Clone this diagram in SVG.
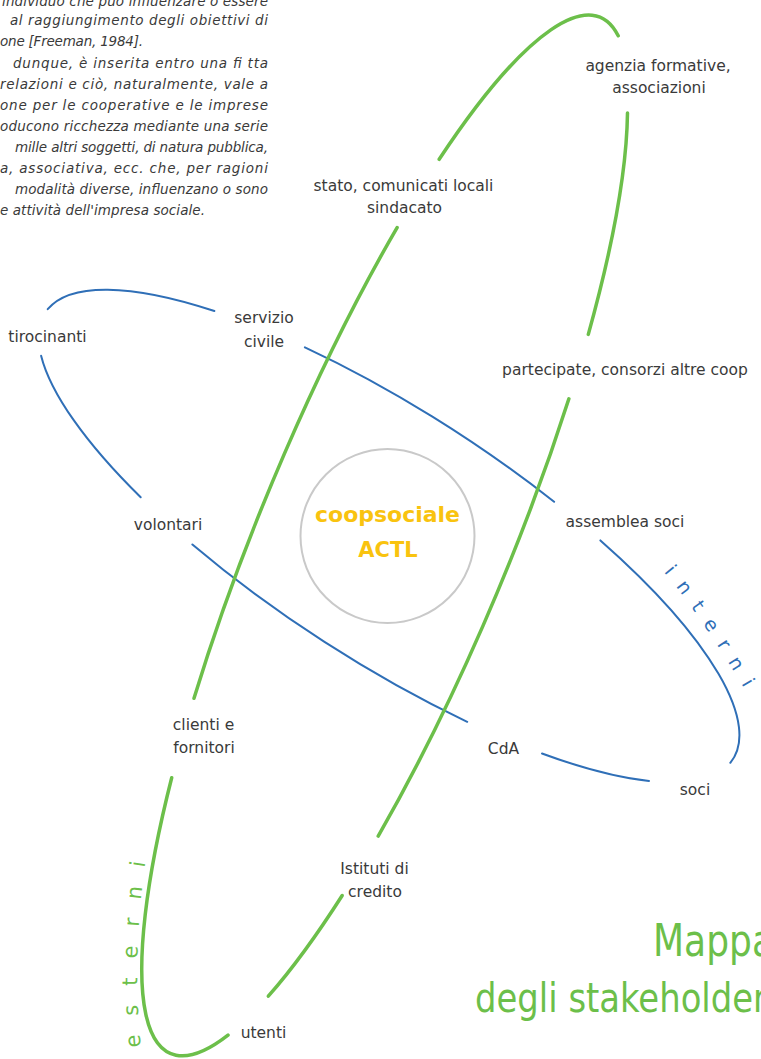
<svg xmlns="http://www.w3.org/2000/svg" width="761" height="1059" viewBox="0 0 761 1059">
<style>
.bg{fill:#ffffff}
.para{font-family:"DejaVu Sans","Liberation Sans",sans-serif;font-style:italic;font-size:13.5px;fill:#3a3a3a}
.lbl{font-family:"DejaVu Sans","Liberation Sans",sans-serif;font-size:15.5px;fill:#3a3a3a;text-anchor:middle}
.core{font-family:"DejaVu Sans","Liberation Sans",sans-serif;font-weight:bold;font-size:21px;fill:#f9c30f;text-anchor:middle}
.blue{fill:none;stroke:#2f6fb7;stroke-width:2;stroke-linecap:round}
.green{fill:none;stroke:#6cbf4a;stroke-width:3.5;stroke-linecap:round}
.ring{fill:none;stroke:#c9c9c9;stroke-width:2}
.arcB{font-family:"DejaVu Sans",sans-serif;font-size:19px;fill:#2f6fb7}
.arcG{font-family:"DejaVu Sans",sans-serif;font-size:21px;fill:#6cbf4a}
.title{font-family:"DejaVu Sans Condensed","DejaVu Sans",sans-serif;fill:#6cbf4a}
</style>
<defs>
<path id="pInt" d="M664,572 Q704,620 748,695"/>
<path id="pEst" d="M141,1047 Q131,950 148,845"/>
</defs>
<rect class="bg" x="0" y="0" width="761" height="1059"/>

<g id="paragraph">
<text class="para" x="2" y="5.5" textLength="266">individuo che può influenzare o essere</text>
<text class="para" x="10" y="24.5" textLength="258">al raggiungimento degli obiettivi di</text>
<text class="para" x="0" y="45.7" textLength="143">one [Freeman, 1984].</text>
<text class="para" x="13" y="68.3" textLength="255">dunque, è inserita entro una fi tta</text>
<text class="para" x="0" y="89.3" textLength="268">relazioni e ciò, naturalmente, vale a</text>
<text class="para" x="0" y="110.2" textLength="268">one per le cooperative e le imprese</text>
<text class="para" x="0" y="131.2" textLength="268">oducono ricchezza mediante una serie</text>
<text class="para" x="15" y="152.1" textLength="253">mille altri soggetti, di natura pubblica,</text>
<text class="para" x="0" y="173.1" textLength="268">a, associativa, ecc. che, per ragioni</text>
<text class="para" x="15" y="194.1" textLength="253">modalità diverse, influenzano o sono</text>
<text class="para" x="0" y="215" textLength="205">e attività dell'impresa sociale.</text>
</g>

<g id="connectors">
<g id="interni-ring">
<path class="blue" d="M47.7,309.2 A410,124 33 0 1 214.4,311.0"/>
<path class="blue" d="M304.9,347.3 A410,124 33 0 1 554.1,501.8"/>
<path class="blue" d="M600.4,540.4 A410,124 33 0 1 730.3,762.8"/>
<path class="blue" d="M649.0,781.0 A410,124 33 0 1 542.0,753.5"/>
<path class="blue" d="M467.2,721.8 A410,124 33 0 1 192.4,544.5"/>
<path class="blue" d="M140.7,497.3 A410,124 33 0 1 41.1,355.7"/>
</g>
<g id="esterni-ring">
<path class="green" d="M439.2,159.3 A561,125 112.5 0 1 618.2,35.8"/>
<path class="green" d="M627.5,113 A561,125 112.5 0 1 588.3,334.4"/>
<path class="green" d="M568.9,398.8 A561,125 112.5 0 1 378.2,836.1"/>
<path class="green" d="M342.2,895.5 A561,125 112.5 0 1 268.3,996.2"/>
<path class="green" d="M228,1035.2 A561,125 112.5 0 1 171.7,777.7"/>
<path class="green" d="M194,698.3 A561,125 112.5 0 1 397.1,227.6"/>
</g>
</g>

<g id="center">
<circle class="ring" cx="387.5" cy="536" r="87"/>
<text class="core" x="387.5" y="521.5" textLength="145" lengthAdjust="spacingAndGlyphs">coopsociale</text>
<text class="core" x="388" y="556.5">ACTL</text>
</g>

<g id="agenzia"><text class="lbl" x="658" y="71">agenzia formative,</text><text class="lbl" x="659" y="93">associazioni</text></g>
<g id="stato"><text class="lbl" x="403.5" y="190.5">stato, comunicati locali</text><text class="lbl" x="404.5" y="213">sindacato</text></g>
<g id="servizio"><text class="lbl" x="264" y="323">servizio</text><text class="lbl" x="264" y="346.5">civile</text></g>
<g id="tirocinanti"><text class="lbl" x="47.5" y="341.5">tirocinanti</text></g>
<g id="partecipate"><text class="lbl" x="625" y="375">partecipate, consorzi altre coop</text></g>
<g id="volontari"><text class="lbl" x="168" y="530">volontari</text></g>
<g id="assemblea"><text class="lbl" x="625" y="526.5">assemblea soci</text></g>
<g id="clienti"><text class="lbl" x="203.5" y="730">clienti e</text><text class="lbl" x="204" y="753">fornitori</text></g>
<g id="cda"><text class="lbl" x="503.5" y="754">CdA</text></g>
<g id="soci"><text class="lbl" x="695" y="795">soci</text></g>
<g id="istituti"><text class="lbl" x="374.5" y="874">Istituti di</text><text class="lbl" x="375" y="897">credito</text></g>
<g id="utenti"><text class="lbl" x="263.5" y="1038">utenti</text></g>

<g id="label-interni"><text class="arcB" letter-spacing="13.3"><textPath href="#pInt">interni</textPath></text></g>
<g id="label-esterni"><text class="arcG" letter-spacing="18.8"><textPath href="#pEst">esterni</textPath></text></g>

<g id="title">
<text class="title" x="653" y="956" font-size="44" textLength="121" lengthAdjust="spacingAndGlyphs">Mappa</text>
<text class="title" x="475" y="1012" font-size="40" textLength="292" lengthAdjust="spacingAndGlyphs">degli stakeholder</text>
</g>
</svg>
